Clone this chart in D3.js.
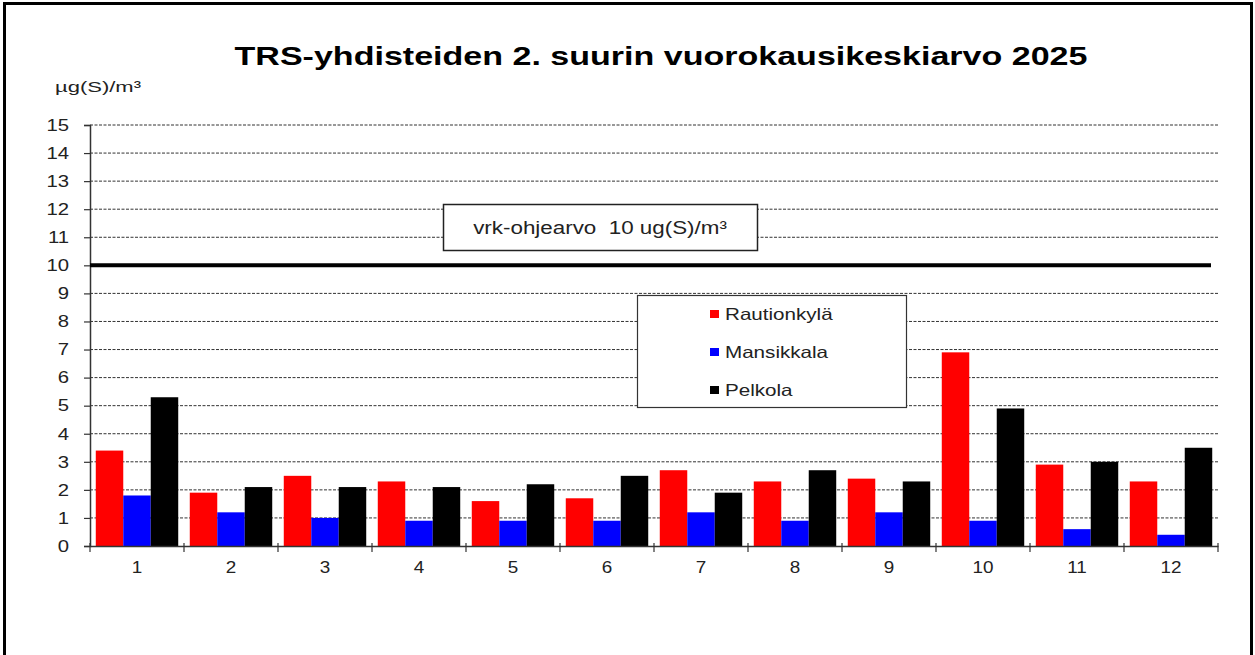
<!DOCTYPE html>
<html>
<head>
<meta charset="utf-8">
<script src="https://cdn.jsdelivr.net/npm/d3@7"></script>
<style>
  html, body { margin: 0; padding: 0; background: #fff; }
  svg { display: block; font-family: "Liberation Sans", Arial, sans-serif; }
</style>
</head>
<body>
<svg id="chart" width="1255" height="655"></svg>
<script>
const months = ["1","2","3","4","5","6","7","8","9","10","11","12"];
const seriesNames = ["Rautionkylä", "Mansikkala", "Pelkola"];
const rautionkyla = [3.4, 1.9, 2.5, 2.3, 1.6, 1.7, 2.7, 2.3, 2.4, 6.9, 2.9, 2.3];
const mansikkala  = [1.8, 1.2, 1.0, 0.9, 0.9, 0.9, 1.2, 0.9, 1.2, 0.9, 0.6, 0.4];
const pelkola     = [5.3, 2.1, 2.1, 2.1, 2.2, 2.5, 1.9, 2.7, 2.3, 4.9, 3.0, 3.5];
const yTicks = [0,1,2,3,4,5,6,7,8,9,10,11,12,13,14,15];
const limitValue = 10;
const titleText = "TRS-yhdisteiden 2. suurin vuorokausikeskiarvo 2025";
const unitText = "µg(S)/m³";
const limitLabel = "vrk-ohjearvo  10 ug(S)/m³";
const colors = ["#ff0000", "#0000ff", "#000000"];

const seriesValues = [rautionkyla, mansikkala, pelkola];

(function () {
const svg = d3.select("#chart");

// horizontally stretched text helper
function stext(parent, x, y, sx, txt) {
  return parent.append("text")
    .attr("transform", `translate(${x},${y}) scale(${sx},1)`)
    .text(txt);
}

// outer frame
svg.append("rect")
  .attr("x", 4.5).attr("y", 3.5)
  .attr("width", 1247).attr("height", 670)
  .attr("fill", "none").attr("stroke", "#000").attr("stroke-width", 3);

const pLeft = 90, pRight = 1218, pTop = 125, pBottom = 546;

const x = d3.scaleBand().domain(months).range([pLeft, pRight]).paddingInner(0).paddingOuter(0);
const xs = d3.scaleBand().domain(seriesNames).range([0, x.bandwidth()]).paddingInner(0).paddingOuter(0.21);
const y = d3.scaleLinear().domain([0, 15]).range([pBottom, pTop]);

// title
stext(svg, 661, 65, 1.335, titleText)
  .attr("text-anchor", "middle")
  .attr("font-size", 25.5).attr("font-weight", "bold").attr("fill", "#000");

// unit label
stext(svg, 55, 92, 1.42, unitText)
  .attr("font-size", 15.5)
  .attr("fill", "#222");

// gridlines
svg.append("g").selectAll("line")
  .data(yTicks.filter(d => d > 0 && d !== limitValue))
  .join("line")
  .attr("x1", pLeft).attr("x2", pRight)
  .attr("y1", d => y(d)).attr("y2", d => y(d))
  .attr("stroke", "#333").attr("stroke-width", 1)
  .attr("stroke-dasharray", "3,1.5");

// y axis
const sxY = 1.23;
const yAxis = d3.axisLeft(y).tickValues(yTicks).tickSize(6).tickFormat(d3.format("d"));
const gy = svg.append("g").attr("transform", `translate(${pLeft},0)`).call(yAxis);
gy.select(".domain").attr("stroke", "#333").attr("stroke-width", 1.5);
gy.selectAll(".tick line").attr("stroke", "#333").attr("stroke-width", 1.2);
gy.selectAll(".tick text")
  .attr("font-size", 16.5).attr("fill", "#222")
  .attr("font-family", "Liberation Sans, Arial, sans-serif")
  .attr("x", -21 / sxY)
  .attr("transform", `scale(${sxY},1)`);

// bars
const groups = svg.append("g").selectAll("g")
  .data(months)
  .join("g")
  .attr("transform", d => `translate(${x(d)},0)`);

groups.selectAll("rect")
  .data((m, i) => seriesNames.map((s, k) => ({ s, k, v: seriesValues[k][i] })))
  .join("rect")
  .attr("x", d => xs(d.s))
  .attr("width", xs.bandwidth())
  .attr("y", d => y(d.v))
  .attr("height", d => y(0) - y(d.v))
  .attr("fill", d => colors[d.k]);

// x axis
const xAxis = d3.axisBottom(x).tickSize(0).tickPadding(16);
const gx = svg.append("g").attr("transform", `translate(0,${pBottom})`).call(xAxis);
gx.select(".domain").attr("stroke", "#333").attr("stroke-width", 1.5);
gx.selectAll(".tick text").attr("font-size", 16).attr("fill", "#222")
  .attr("font-family", "Liberation Sans, Arial, sans-serif")
  .attr("transform", "scale(1.18,1)");
// boundary ticks
const boundaries = months.map(m => x(m)).concat([pRight]);
svg.append("g").selectAll("line")
  .data(boundaries)
  .join("line")
  .attr("x1", d => d).attr("x2", d => d)
  .attr("y1", pBottom - 3).attr("y2", pBottom + 6)
  .attr("stroke", "#333").attr("stroke-width", 1.2);

// limit line
svg.append("line")
  .attr("x1", pLeft).attr("x2", 1211)
  .attr("y1", y(limitValue)).attr("y2", y(limitValue))
  .attr("stroke", "#000").attr("stroke-width", 4);

// limit annotation box
svg.append("rect")
  .attr("x", 443.5).attr("y", 204.5).attr("width", 314).attr("height", 46)
  .attr("fill", "#fff").attr("stroke", "#222").attr("stroke-width", 1.5);
stext(svg, 600, 234, 1.28, limitLabel)
  .attr("text-anchor", "middle")
  .attr("font-size", 17.5).attr("fill", "#222")
  .style("white-space", "pre");

// legend
svg.append("rect")
  .attr("x", 637.5).attr("y", 295.5).attr("width", 269).attr("height", 112)
  .attr("fill", "#fff").attr("stroke", "#333").attr("stroke-width", 1.2);
const leg = svg.append("g").selectAll("g")
  .data(seriesNames)
  .join("g")
  .attr("transform", (d, i) => `translate(710,${314 + i * 38})`);
leg.append("rect")
  .attr("x", 0).attr("y", -4).attr("width", 9).attr("height", 8)
  .attr("fill", (d, i) => colors[i]);
leg.append("text")
  .attr("transform", "translate(15,5.5) scale(1.25,1)")
  .attr("font-size", 16.5).attr("fill", "#222")
  .text(d => d);
})();
</script>
</body>
</html>
